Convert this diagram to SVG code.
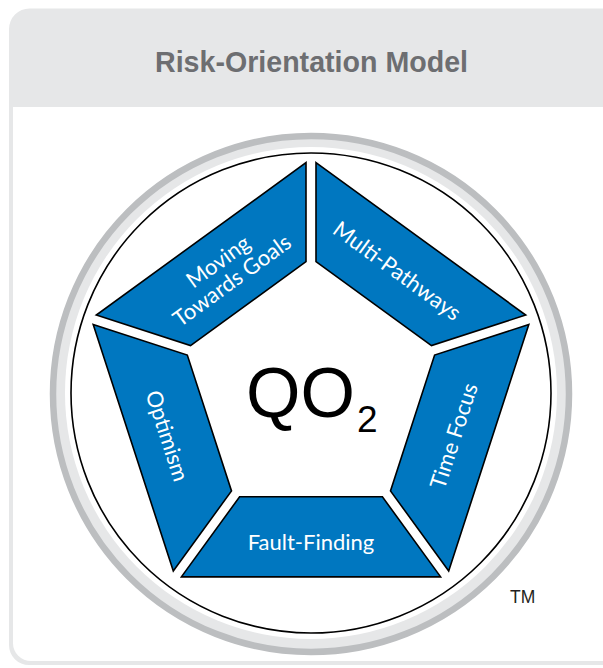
<svg xmlns="http://www.w3.org/2000/svg" width="603" height="668" viewBox="0 0 603 668">
  <style>
    .seg { fill: #0077c0; stroke: #000; stroke-width: 1.6; stroke-linejoin: miter; }
    .lbl { fill: #ffffff; font-family: Lato, "Noto Sans", "Liberation Sans", sans-serif; font-size: 22px; text-anchor: middle; }
    .title { fill: #6d6e71; font-family: "Liberation Sans", Arial, sans-serif; font-weight: bold; font-size: 30px; text-anchor: middle; }
  </style>
  <rect width="603" height="668" fill="#ffffff"/>
  <g id="card">
    <path d="M9,29 A20.5,20.5 0 0 1 29.5,8.5 H603 V665 H29 A20,20 0 0 1 9,645 Z" fill="#e6e7e8"/>
    <path d="M13,107 H603 V661 H31 A18,18 0 0 1 13,643 Z" fill="#ffffff"/>
    <text class="title" x="311.5" y="72" textLength="313" lengthAdjust="spacingAndGlyphs">Risk-Orientation Model</text>
  </g>
  <g id="ring">
    <circle cx="311" cy="394" r="258" fill="#e6e7e8" stroke="#bcbec0" stroke-width="6.5"/>
    <circle cx="311" cy="393" r="246" fill="#ffffff"/>
    <circle cx="311" cy="393" r="240" fill="#ffffff" stroke="#000" stroke-width="1.6"/>
  </g>
  <g id="multi-pathways">
    <polygon class="seg" points="316,162.6 525.7,315 431.5,345.6 316,261.6"/>
    <text class="lbl" transform="translate(397,271) rotate(36)" y="7.5">Multi-Pathways</text>
  </g>
  <g id="time-focus">
    <polygon class="seg" points="528.8,324.5 448.7,571 390.5,490.9 434.6,355.1"/>
    <text class="lbl" transform="translate(454,436) rotate(-72)" y="7.5">Time Focus</text>
  </g>
  <g id="fault-finding">
    <polygon class="seg" points="239.6,496.8 382.4,496.8 440.6,576.9 181.4,576.9"/>
    <text class="lbl" x="311" y="550">Fault-Finding</text>
  </g>
  <g id="optimism">
    <polygon class="seg" points="93.2,324.5 187.3,355.1 231.5,490.9 173.3,571"/>
    <text class="lbl" transform="translate(167,436) rotate(72)" y="7.5">Optimism</text>
  </g>
  <g id="moving-towards-goals">
    <polygon class="seg" points="306,162.6 306,261.6 190.5,345.6 96.3,315"/>
    <g transform="translate(225,271) rotate(-36)">
      <text class="lbl" y="-4">Moving</text>
      <text class="lbl" y="19.5">Towards Goals</text>
    </g>
  </g>
  <g id="qo2">
    <text x="246" y="417" font-family="'Liberation Sans', Arial, sans-serif" font-size="70" fill="#000">QO</text>
    <text x="357" y="432" font-family="'Liberation Sans', Arial, sans-serif" font-size="37" fill="#000">2</text>
  </g>
  <g id="tm">
    <text x="510" y="603" font-family="'Liberation Sans', Arial, sans-serif" font-size="17.5" fill="#231f20">TM</text>
  </g>
</svg>
